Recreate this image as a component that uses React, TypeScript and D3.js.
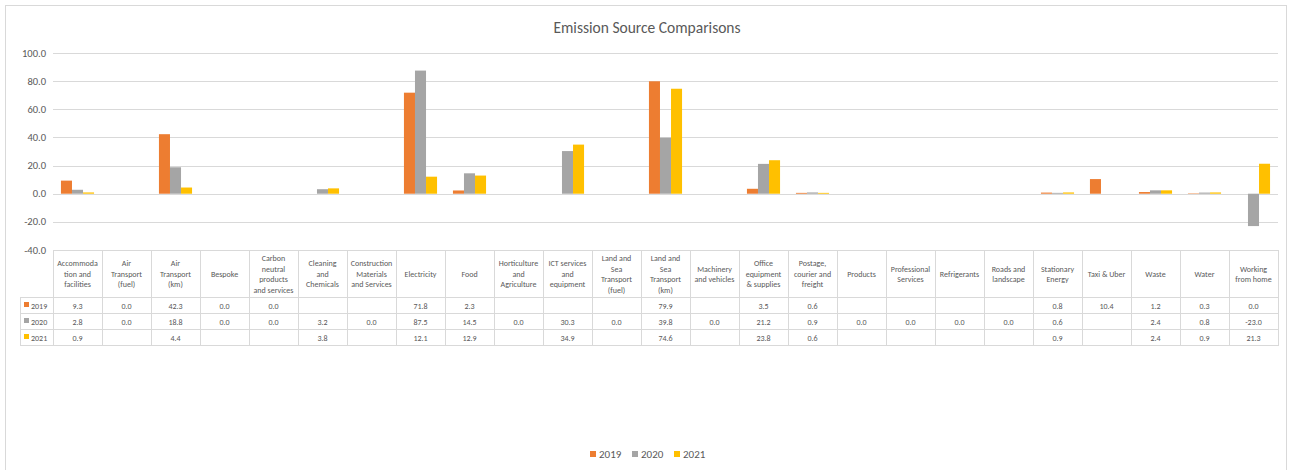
import React from "react";
import * as d3 from "d3";

const categories: string[][] = [
  ["Accommoda", "tion and", "facilities"],
  ["Air", "Transport", "(fuel)"],
  ["Air", "Transport", "(km)"],
  ["Bespoke"],
  ["Carbon", "neutral", "products", "and services"],
  ["Cleaning", "and", "Chemicals"],
  ["Construction", "Materials", "and Services"],
  ["Electricity"],
  ["Food"],
  ["Horticulture", "and", "Agriculture"],
  ["ICT services", "and", "equipment"],
  ["Land and", "Sea", "Transport", "(fuel)"],
  ["Land and", "Sea", "Transport", "(km)"],
  ["Machinery", "and vehicles"],
  ["Office", "equipment", "& supplies"],
  ["Postage,", "courier and", "freight"],
  ["Products"],
  ["Professional", "Services"],
  ["Refrigerants"],
  ["Roads and", "landscape"],
  ["Stationary", "Energy"],
  ["Taxi & Uber"],
  ["Waste"],
  ["Water"],
  ["Working", "from home"],
];

const series2019: (number | null)[] = [9.3, 0.0, 42.3, 0.0, 0.0, null, null, 71.8, 2.3, null, null, null, 79.9, null, 3.5, 0.6, null, null, null, null, 0.8, 10.4, 1.2, 0.3, 0.0];
const series2020: (number | null)[] = [2.8, 0.0, 18.8, 0.0, 0.0, 3.2, 0.0, 87.5, 14.5, 0.0, 30.3, 0.0, 39.8, 0.0, 21.2, 0.9, 0.0, 0.0, 0.0, 0.0, 0.6, null, 2.4, 0.8, -23.0];
const series2021: (number | null)[] = [0.9, null, 4.4, null, null, 3.8, null, 12.1, 12.9, null, 34.9, null, 74.6, null, 23.8, 0.6, null, null, null, null, 0.9, null, 2.4, 0.9, 21.3];

const seriesNames = ["2019", "2020", "2021"];
const seriesColors = ["#ED7D31", "#A5A5A5", "#FFC000"];
const yTicks = [-40, -20, 0, 20, 40, 60, 80, 100];

const W = 1290;
const H = 470;
const FONT = "Carlito, Calibri, Lato, 'Open Sans', sans-serif";
const TXT = "#595959";
const GRID = "#D9D9D9";

export default function App() {
  const allSeries = [series2019, series2020, series2021];
  const left = 53;
  const right = 1278;
  const y = d3.scaleLinear().domain([-40, 100]).range([250, 53]);
  const x = d3
    .scaleBand<number>()
    .domain(d3.range(categories.length))
    .range([left, right]);
  const inner = d3
    .scaleBand<number>()
    .domain([0, 1, 2])
    .range([0, x.bandwidth()])
    .paddingInner(0)
    .paddingOuter(0.72);

  const tableTop = 250;
  const headerBottom = 297.5;
  const rowH = 16;
  const legendColLeft = 20;

  return (
    <svg width={W} height={H} style={{ position: "absolute", left: 0, top: 0 }} fontFamily={FONT}>
      <rect x={0} y={0} width={W} height={H} fill="#fff" />
      <rect x={5.5} y={5.5} width={1281} height={500} fill="#fff" stroke="#D9D9D9" />
      <text x={647} y={33} textAnchor="middle" fontSize={15.5} fill={TXT}>
        Emission Source Comparisons
      </text>
      {yTicks.map((t) =>
        t === -40 ? null : (
          <line key={t} x1={left} x2={right} y1={Math.round(y(t)) + 0.5} y2={Math.round(y(t)) + 0.5} stroke={GRID} strokeWidth={1} />
        )
      )}
      {yTicks.map((t) => (
        <text key={"l" + t} x={46} y={y(t) + 3.5} textAnchor="end" fontSize={10.5} fill={TXT}>
          {d3.format(".1f")(t).replace("−", "-")}
        </text>
      ))}
      {allSeries.map((s, si) =>
        s.map((v, ci) => {
          if (v === null) return null;
          const x0 = (x(ci) as number) + (inner(si) as number);
          const y0 = y(Math.max(0, v));
          const h = Math.abs(y(v) - y(0));
          return <rect key={si + "-" + ci} x={x0} y={y0} width={inner.bandwidth()} height={Math.max(h, 0)} fill={seriesColors[si]} />;
        })
      )}
      {/* table */}
      <g stroke={GRID} strokeWidth={1} shapeRendering="crispEdges">
        <line x1={left} x2={right} y1={tableTop} y2={tableTop} />
        <line x1={legendColLeft} x2={right} y1={headerBottom} y2={headerBottom} />
        {[1, 2, 3].map((r) => (
          <line key={r} x1={legendColLeft} x2={right} y1={headerBottom + r * rowH} y2={headerBottom + r * rowH} />
        ))}
        <line x1={legendColLeft} x2={legendColLeft} y1={headerBottom} y2={headerBottom + 3 * rowH} />
        {d3.range(categories.length + 1).map((i) => {
          const xx = i < categories.length ? (x(i) as number) : right;
          return <line key={i} x1={xx} x2={xx} y1={tableTop} y2={headerBottom + 3 * rowH} />;
        })}
      </g>
      {categories.map((lines, ci) => {
        const cx = (x(ci) as number) + x.bandwidth() / 2;
        const lh = 10.5;
        const mid = (tableTop + headerBottom) / 2;
        const start = mid - ((lines.length - 1) * lh) / 2 + 3;
        return (
          <text key={"h" + ci} textAnchor="middle" fontSize={8} fill={TXT}>
            {lines.map((ln, li) => (
              <tspan key={li} x={cx} y={start + li * lh}>
                {ln}
              </tspan>
            ))}
          </text>
        );
      })}
      {allSeries.map((s, si) => {
        const ry = headerBottom + si * rowH + rowH / 2 + 3;
        return (
          <g key={"row" + si}>
            <rect x={24} y={ry - 6.5} width={5} height={5} fill={seriesColors[si]} />
            <text x={31} y={ry} fontSize={8} fill={TXT}>
              {seriesNames[si]}
            </text>
            {s.map((v, ci) =>
              v === null ? null : (
                <text key={ci} x={(x(ci) as number) + x.bandwidth() / 2} y={ry} textAnchor="middle" fontSize={8} fill={TXT}>
                  {d3.format(".1f")(v).replace("−", "-")}
                </text>
              )
            )}
          </g>
        );
      })}
      {/* legend */}
      {seriesNames.map((n, i) => {
        const lx = 590 + i * 42;
        return (
          <g key={"lg" + i}>
            <rect x={lx} y={451} width={6} height={6} fill={seriesColors[i]} />
            <text x={lx + 9} y={458} fontSize={11} fill={TXT}>
              {n}
            </text>
          </g>
        );
      })}
    </svg>
  );
}
